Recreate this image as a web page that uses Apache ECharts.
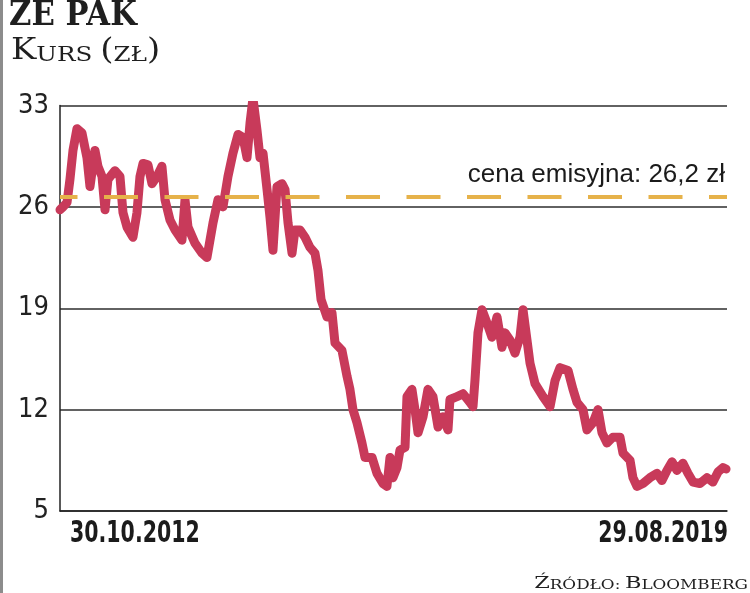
<!DOCTYPE html>
<html>
<head>
<meta charset="utf-8">
<script src="https://cdn.jsdelivr.net/npm/echarts@6/dist/echarts.min.js"></script>
<style>html,body{margin:0;padding:0;background:#fff;}#c{width:750px;height:593px;}</style>
</head>
<body>
<div id="c"></div>
<script>
// Time positions as decimal years (30.10.2012 .. 29.08.2019)
const timeYears = [2012.830,2012.861,2012.902,2012.932,2012.963,2013.004,2013.055,2013.106,2013.137,2013.188,
2013.219,2013.260,2013.291,2013.321,2013.393,2013.444,2013.475,2013.516,2013.577,2013.618,
2013.649,2013.680,2013.731,2013.772,2013.823,2013.874,2013.905,2013.956,2014.008,2014.079,
2014.110,2014.141,2014.212,2014.284,2014.335,2014.397,2014.448,2014.499,2014.550,2014.601,
2014.653,2014.704,2014.745,2014.776,2014.806,2014.847,2014.878,2014.909,2014.950,2014.980,
2015.011,2015.052,2015.103,2015.134,2015.165,2015.206,2015.236,2015.288,2015.339,2015.390,
2015.441,2015.472,2015.503,2015.564,2015.615,2015.646,2015.717,2015.769,2015.799,2015.830,
2015.871,2015.922,2015.953,2016.025,2016.076,2016.137,2016.178,2016.209,2016.240,2016.281,
2016.311,2016.363,2016.383,2016.434,2016.465,2016.496,2016.547,2016.598,2016.649,2016.701,
2016.752,2016.803,2016.823,2016.895,2016.957,2017.028,2017.059,2017.079,2017.110,2017.151,
2017.202,2017.253,2017.305,2017.356,2017.387,2017.438,2017.489,2017.540,2017.571,2017.612,
2017.643,2017.694,2017.776,2017.848,2017.899,2017.950,2018.032,2018.083,2018.124,2018.185,
2018.226,2018.288,2018.339,2018.380,2018.431,2018.492,2018.564,2018.595,2018.667,2018.697,
2018.738,2018.800,2018.871,2018.943,2018.994,2019.045,2019.097,2019.148,2019.209,2019.260,
2019.312,2019.383,2019.455,2019.516,2019.568,2019.619,2019.650];

// Share price (zł)
const prices = [25.8,26.0,26.3,27.9,29.9,31.4,31.1,29.4,27.4,29.9,
28.8,28.1,25.8,27.9,28.5,28.1,25.6,24.6,23.9,25.6,
28.1,29.0,28.9,27.6,28.1,28.8,26.5,25.1,24.4,23.7,
26.5,24.6,23.5,22.8,22.5,24.9,26.5,26.0,28.1,29.7,
31.0,30.8,29.4,31.8,33.5,31.3,29.4,29.7,27.2,25.3,
23.0,27.4,27.6,27.2,24.9,22.8,24.4,24.4,23.9,23.2,
22.8,21.6,19.6,18.4,18.7,16.6,16.1,14.3,13.4,12.0,
11.1,9.7,8.7,8.7,7.6,6.9,6.7,8.7,7.3,8.0,
9.2,9.4,12.9,13.4,12.0,10.4,11.5,13.4,12.9,10.8,
11.5,10.6,12.7,12.9,13.1,12.5,12.2,14.0,17.3,18.9,
18.0,17.0,18.4,16.3,17.3,16.8,15.9,17.0,18.9,16.8,
15.2,13.8,12.9,12.2,14.0,14.9,14.7,13.4,12.5,12.0,
10.6,11.1,12.0,10.4,9.7,10.1,10.1,9.0,8.5,7.3,
6.7,6.9,7.3,7.6,7.1,7.8,8.4,7.8,8.3,7.6,
7.0,6.9,7.3,7.0,7.7,8.0,7.9];

const xTickValues = [2012.83, 2019.66];
const xTickLabels = ['30.10.2012', '29.08.2019'];
const yTicks = [5, 12, 19, 26, 33];
const issuePriceLevel = 26.7;          // level where the dashed line is drawn
const issuePriceText = 'cena emisyjna: 26,2 zł';

const chart = echarts.init(document.getElementById('c'), null, {renderer: 'canvas'});
const seriesData = timeYears.map((t, i) => [t, prices[i]]);

const serifB = (size, weight) => ({fontFamily: 'DejaVu Serif', fontSize: size, fontWeight: weight || 'normal', fill: '#1f1f1f', verticalAlign: 'bottom'});

chart.setOption({
  animation: false,
  backgroundColor: '#fff',
  grid: {left: 60, right: 23, top: 105.5, bottom: 82, containLabel: false},
  xAxis: {
    type: 'value', min: xTickValues[0], max: xTickValues[1],
    axisLine: {show: true, lineStyle: {color: '#222', width: 1.5}},
    axisTick: {show: false},
    splitLine: {show: false},
    axisLabel: {show: false}
  },
  yAxis: {
    type: 'value', min: yTicks[0], max: yTicks[yTicks.length - 1], interval: 7,
    axisLine: {show: true, lineStyle: {color: '#222', width: 1.5}},
    axisTick: {show: false},
    splitLine: {show: true, lineStyle: {color: '#2e2e2e', width: 1.5}},
    axisLabel: {
      fontFamily: 'DejaVu Sans Condensed, Liberation Sans, sans-serif',
      fontSize: 27, color: '#222', margin: 11
    }
  },
  series: [{
    type: 'line',
    data: seriesData,
    showSymbol: false,
    symbol: 'none',
    z: 2,
    lineStyle: {color: '#c83a5a', width: 9, cap: 'round', join: 'round'},
    markLine: {
      silent: true, symbol: 'none', z: 10,
      lineStyle: {color: '#e6b24a', width: 4, type: [34, 26.5], dashOffset: 16.5, cap: 'butt'},
      label: {
        show: true, position: 'insideEndTop', distance: [2, 9],
        formatter: issuePriceText,
        fontFamily: 'Liberation Sans, Arial, sans-serif',
        fontSize: 26, color: '#1b1b1b'
      },
      data: [{yAxis: issuePriceLevel}]
    }
  }]
});

// Header, source and x tick labels as (horizontally scaled) text
const xPix = xTickValues.map(v => chart.convertToPixel({xAxisIndex: 0}, v));
const xLabelFont = {fontFamily: 'DejaVu Sans Condensed, DejaVu Sans, sans-serif', fontWeight: 'bold', fontSize: 30, fill: '#1b1b1b', verticalAlign: 'middle'};

chart.setOption({
  graphic: [
    {id: 'bar', type: 'rect', left: 0, top: 0, shape: {width: 3, height: 593}, style: {fill: '#8c8c8c'}, silent: true},
    {id: 'title', type: 'text', x: 9, y: 33, scaleX: 0.93,
     style: Object.assign({text: 'ZE PAK'}, serifB(33, 'bold'), {align: 'left'})},
    {id: 'sub', type: 'text', x: 11, y: 66, scaleX: 1.17,
     style: {text: '{b|K}{s|URS}  {b|(}{s|ZŁ}{b|)}', align: 'left', verticalAlign: 'bottom',
       rich: {b: serifB(29), s: serifB(21)}}},
    {id: 'src', type: 'text', x: 748, y: 592, scaleX: 1.4,
     style: {text: '{b|Ź}{s|RÓDŁO:} {b|B}{s|LOOMBERG}', align: 'right', verticalAlign: 'bottom',
       rich: {b: serifB(16), s: serifB(12)}}},
    {id: 'xl0', type: 'text', x: xPix[0] + 10, y: 534, scaleX: 0.76,
     style: Object.assign({text: xTickLabels[0], align: 'left'}, xLabelFont)},
    {id: 'xl1', type: 'text', x: xPix[1] + 1, y: 534, scaleX: 0.76,
     style: Object.assign({text: xTickLabels[1], align: 'right'}, xLabelFont)}
  ]
});
</script>
</body>
</html>
